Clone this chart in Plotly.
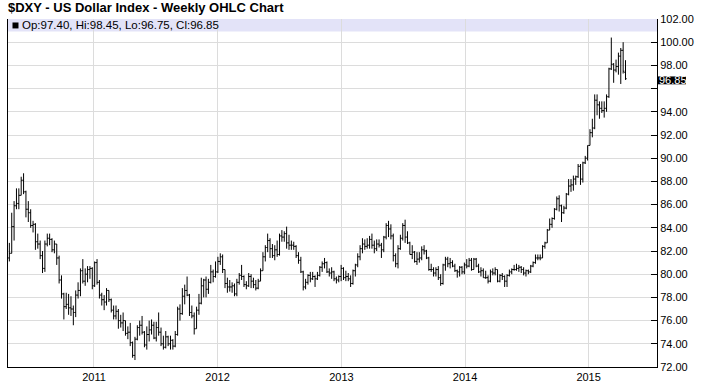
import pandas as pd
import plotly.graph_objects as go

# Weekly bars, week of 2010-04-26 through week of 2015-04-20
week_start = "2010-04-26"
n_weeks = 261

opens = [
    81.4, 81.8, 84.1, 85.9, 86.1, 86.8, 88.1, 87.1, 85.6, 85.3,
    84.2, 84.3, 82.8, 82.6, 81.6, 80.5, 82.6, 83.1, 83.0, 82.1,
    82.6, 81.4, 79.5, 78.3, 77.2, 77.4, 77.1, 77.0, 76.7, 78.2,
    78.6, 80.3, 79.4, 80.0, 80.4, 80.5, 79.0, 81.0, 79.3, 78.2,
    77.8, 77.6, 78.6, 77.8, 76.9, 76.4, 76.8, 76.0, 75.8, 76.0,
    74.9, 75.0, 74.1, 73.0, 74.4, 75.4, 75.6, 75.0, 73.9, 74.8,
    75.2, 75.6, 74.5, 75.4, 75.0, 74.0, 73.7, 74.6, 74.0, 74.3,
    73.8, 74.8, 77.0, 76.6, 78.1, 78.6, 78.2, 76.7, 76.4, 75.3,
    76.9, 77.5, 79.0, 79.5, 78.7, 79.3, 80.2, 79.8, 80.2, 81.1,
    81.5, 80.4, 79.2, 78.9, 78.9, 79.0, 78.3, 79.3, 79.9, 79.8,
    79.1, 79.0, 79.8, 79.4, 79.1, 78.8, 79.4, 80.3, 81.5, 82.3,
    82.9, 82.2, 81.6, 82.1, 81.7, 83.3, 83.2, 83.5, 82.7, 82.5,
    82.5, 82.4, 81.6, 81.2, 80.2, 78.9, 79.3, 79.9, 79.6, 79.8,
    79.6, 79.9, 80.6, 80.9, 81.0, 80.2, 80.1, 80.2, 79.6, 79.5,
    79.8, 80.5, 79.7, 79.8, 79.6, 79.2, 80.3, 80.8, 81.5, 82.2,
    82.6, 82.4, 82.5, 83.0, 82.5, 82.2, 82.6, 82.5, 82.1, 83.2,
    84.2, 83.9, 83.3, 81.6, 80.9, 82.2, 83.1, 84.2, 83.2, 82.7,
    81.7, 81.9, 81.1, 81.3, 81.4, 82.1, 82.0, 81.4, 80.4, 80.4,
    80.1, 80.4, 79.7, 79.2, 80.8, 81.3, 80.9, 81.0, 80.7, 80.3,
    80.2, 80.6, 80.2, 80.8, 80.7, 81.2, 80.4, 81.3, 80.7, 80.2,
    80.3, 79.7, 79.7, 79.4, 80.2, 80.1, 80.4, 79.4, 79.9, 79.8,
    79.4, 79.9, 80.2, 80.4, 80.4, 80.5, 80.6, 80.4, 80.1, 80.3,
    80.2, 80.7, 81.0, 81.4, 81.4, 81.4, 82.4, 82.7, 83.8, 84.3,
    84.8, 85.6, 86.5, 85.9, 85.3, 85.7, 86.9, 87.6, 87.7, 88.2,
    88.4, 89.3, 88.2, 89.6, 90.0, 91.1, 92.2, 92.6, 95.0, 94.6,
    94.3, 94.1, 94.3, 95.3, 97.7, 98.1, 97.6, 97.9, 98.8, 99.3,
    97.40,
]
highs = [
    82.7, 85.3, 86.3, 87.4, 87.4, 88.4, 88.7, 87.2, 86.3, 85.6,
    84.6, 84.4, 83.5, 82.9, 82.0, 82.9, 83.5, 83.5, 83.1, 82.9,
    82.6, 81.6, 79.9, 78.4, 78.4, 78.3, 78.1, 77.3, 78.6, 79.3,
    80.5, 81.3, 80.5, 80.7, 80.7, 80.6, 81.1, 81.3, 79.5, 78.4,
    78.2, 78.8, 78.6, 77.9, 77.3, 77.3, 77.0, 76.5, 76.7, 76.0,
    75.5, 75.8, 74.2, 74.6, 75.6, 76.0, 76.4, 75.1, 75.5, 76.0,
    76.1, 75.9, 75.9, 76.7, 75.4, 74.7, 75.1, 74.7, 74.7, 74.4,
    75.1, 77.2, 77.4, 78.8, 79.1, 79.8, 78.3, 77.3, 76.7, 77.2,
    78.3, 79.7, 79.6, 79.8, 79.6, 80.8, 80.4, 81.1, 81.5, 81.8,
    81.7, 80.4, 79.7, 79.5, 79.3, 79.2, 79.6, 80.1, 80.8, 79.9,
    79.4, 80.1, 80.0, 79.7, 79.5, 79.6, 80.5, 81.9, 82.5, 83.5,
    83.1, 82.6, 82.5, 82.9, 83.5, 83.8, 83.7, 84.1, 83.4, 82.9,
    82.8, 82.5, 81.9, 81.5, 80.3, 79.6, 80.0, 80.2, 80.2, 79.9,
    80.2, 80.7, 81.1, 81.4, 81.1, 80.5, 80.6, 80.3, 79.8, 79.9,
    80.8, 80.6, 80.3, 80.1, 79.9, 80.4, 80.9, 81.8, 82.5, 83.1,
    83.0, 83.1, 83.3, 83.5, 82.9, 83.0, 83.0, 82.7, 83.3, 84.4,
    84.6, 84.3, 83.5, 81.8, 82.5, 83.4, 84.4, 84.7, 83.7, 82.8,
    82.5, 82.0, 81.9, 81.9, 82.4, 82.5, 82.1, 81.5, 80.9, 80.6,
    80.6, 80.7, 80.0, 80.9, 81.5, 81.5, 81.4, 81.2, 80.9, 80.4,
    80.7, 80.7, 81.0, 81.3, 81.4, 81.4, 81.4, 81.4, 80.9, 80.6,
    80.5, 80.3, 79.9, 80.4, 80.5, 80.6, 80.4, 80.0, 80.1, 79.9,
    80.0, 80.4, 80.5, 80.8, 80.9, 80.8, 80.7, 80.6, 80.4, 80.4,
    80.8, 81.1, 81.7, 81.7, 81.7, 82.5, 82.8, 83.9, 84.8, 84.9,
    85.7, 86.7, 86.8, 86.0, 85.9, 87.0, 88.2, 88.2, 88.5, 88.5,
    89.5, 89.5, 89.7, 90.2, 91.1, 92.5, 93.4, 95.5, 95.5, 94.9,
    94.9, 94.9, 95.5, 97.8, 100.4, 98.2, 98.5, 99.1, 99.5, 100.0,
    98.45,
]
lows = [
    81.1, 81.8, 82.9, 85.6, 85.6, 86.8, 86.9, 84.9, 84.5, 84.0,
    83.6, 82.1, 82.2, 81.3, 80.1, 80.2, 82.4, 82.5, 81.9, 81.8,
    80.8, 79.2, 77.9, 76.1, 77.0, 76.5, 76.4, 75.6, 76.3, 77.9,
    78.1, 79.2, 79.0, 79.3, 79.6, 78.7, 78.9, 79.1, 77.9, 77.3,
    76.9, 77.3, 77.6, 76.7, 76.1, 76.1, 75.3, 75.4, 75.1, 74.7,
    74.4, 73.8, 72.8, 72.6, 74.3, 74.7, 74.8, 73.7, 73.5, 74.2,
    74.8, 74.4, 74.2, 74.7, 73.8, 73.5, 73.6, 73.8, 73.5, 73.5,
    73.7, 74.7, 76.0, 76.5, 77.4, 78.1, 76.4, 76.2, 74.8, 75.3,
    76.5, 77.4, 78.0, 78.0, 78.3, 79.2, 79.3, 79.7, 80.1, 80.8,
    80.1, 78.8, 78.4, 78.5, 78.4, 78.1, 78.1, 79.1, 79.5, 78.9,
    78.7, 78.9, 78.8, 78.8, 78.6, 78.7, 79.4, 80.3, 81.1, 81.9,
    81.4, 81.4, 81.2, 81.5, 81.6, 82.8, 82.8, 82.2, 82.1, 82.1,
    82.1, 81.4, 80.9, 80.1, 78.6, 78.7, 79.1, 79.3, 79.5, 78.9,
    79.5, 79.8, 80.2, 80.5, 80.1, 79.8, 79.6, 79.4, 79.2, 79.3,
    79.4, 79.5, 79.4, 79.4, 78.9, 79.1, 79.8, 80.6, 81.2, 81.8,
    82.1, 82.2, 82.2, 82.2, 81.8, 82.0, 82.3, 81.4, 81.9, 83.0,
    83.2, 83.0, 81.1, 80.6, 80.5, 82.1, 82.9, 82.7, 82.6, 81.7,
    81.3, 81.0, 80.8, 81.0, 81.2, 81.7, 81.3, 80.3, 80.2, 79.8,
    79.8, 79.5, 79.0, 79.1, 80.3, 80.6, 80.5, 80.6, 80.2, 79.7,
    79.8, 80.0, 80.0, 80.5, 80.6, 80.3, 80.4, 80.6, 80.1, 79.8,
    79.7, 79.6, 79.2, 79.3, 79.9, 79.9, 79.3, 79.3, 79.5, 78.9,
    78.9, 79.8, 80.0, 80.3, 80.3, 80.2, 80.1, 79.9, 79.8, 80.0,
    80.1, 80.6, 80.9, 81.2, 81.2, 81.4, 82.2, 82.7, 83.8, 84.0,
    84.7, 85.5, 85.4, 84.5, 85.2, 85.6, 86.8, 87.1, 87.2, 87.7,
    88.3, 87.7, 87.9, 89.5, 89.8, 91.1, 91.8, 92.5, 93.7, 93.4,
    93.9, 93.5, 94.0, 95.2, 97.6, 96.5, 97.4, 97.2, 96.4, 97.3,
    96.75,
]
closes = [
    81.8, 84.1, 85.9, 86.1, 86.8, 88.1, 87.1, 85.6, 85.3, 84.2,
    84.3, 82.8, 82.6, 81.6, 80.5, 82.6, 83.1, 83.0, 82.1, 82.6,
    81.4, 79.5, 78.3, 77.2, 77.4, 77.1, 77.0, 76.7, 78.2, 78.6,
    80.3, 79.4, 80.0, 80.4, 80.5, 79.0, 81.0, 79.3, 78.2, 77.8,
    77.6, 78.6, 77.8, 76.9, 76.4, 76.8, 76.0, 75.8, 76.0, 74.9,
    75.0, 74.1, 73.0, 74.4, 75.4, 75.6, 75.0, 73.9, 74.8, 75.2,
    75.6, 74.5, 75.4, 75.0, 74.0, 73.7, 74.6, 74.0, 74.3, 73.8,
    74.8, 77.0, 76.6, 78.1, 78.6, 78.2, 76.7, 76.4, 75.3, 76.9,
    77.5, 79.0, 79.5, 78.7, 79.3, 80.2, 79.8, 80.2, 81.1, 81.5,
    80.4, 79.2, 78.9, 78.9, 79.0, 78.3, 79.3, 79.9, 79.8, 79.1,
    79.0, 79.8, 79.4, 79.1, 78.8, 79.4, 80.3, 81.5, 82.3, 82.9,
    82.2, 81.6, 82.1, 81.7, 83.3, 83.2, 83.5, 82.7, 82.5, 82.5,
    82.4, 81.6, 81.2, 80.2, 78.9, 79.3, 79.9, 79.6, 79.8, 79.6,
    79.9, 80.6, 80.9, 81.0, 80.2, 80.1, 80.2, 79.6, 79.5, 79.8,
    80.5, 79.7, 79.8, 79.6, 79.2, 80.3, 80.8, 81.5, 82.2, 82.6,
    82.4, 82.5, 83.0, 82.5, 82.2, 82.6, 82.5, 82.1, 83.2, 84.2,
    83.9, 83.3, 81.6, 80.9, 82.2, 83.1, 84.2, 83.2, 82.7, 81.7,
    81.9, 81.1, 81.3, 81.4, 82.1, 82.0, 81.4, 80.4, 80.4, 80.1,
    80.4, 79.7, 79.2, 80.8, 81.3, 80.9, 81.0, 80.7, 80.3, 80.2,
    80.6, 80.2, 80.8, 80.7, 81.2, 80.4, 81.3, 80.7, 80.2, 80.3,
    79.7, 79.7, 79.4, 80.2, 80.1, 80.4, 79.4, 79.9, 79.8, 79.4,
    79.9, 80.2, 80.4, 80.4, 80.5, 80.6, 80.4, 80.1, 80.3, 80.2,
    80.7, 81.0, 81.4, 81.4, 81.4, 82.4, 82.7, 83.8, 84.3, 84.8,
    85.6, 86.5, 85.9, 85.3, 85.7, 86.9, 87.6, 87.7, 88.2, 88.4,
    89.3, 88.2, 89.6, 90.0, 91.1, 92.2, 92.6, 95.0, 94.6, 94.3,
    94.1, 94.3, 95.3, 97.7, 98.1, 97.6, 97.9, 98.8, 99.3, 97.5,
    96.85,
]

y_ticks = [72, 74, 76, 78, 80, 82, 84, 86, 88, 90, 92, 94, 96, 98, 100, 102]
y_tick_labels = ["72.00", "74.00", "76.00", "78.00", "80.00", "82.00", "84.00",
                 "86.00", "88.00", "90.00", "92.00", "94.00", "", "98.00",
                 "100.00", "102.00"]
x_ticks = ["2011-01-01", "2012-01-01", "2013-01-01", "2014-01-01", "2015-01-01"]
x_tick_labels = ["2011", "2012", "2013", "2014", "2015"]

title_text = "$DXY - US Dollar Index - Weekly OHLC Chart"
legend_text = "Op:97.40, Hi:98.45, Lo:96.75, Cl:96.85"
last_close_label = "96.85"

dates = pd.date_range(week_start, periods=n_weeks, freq="7D")

W, H = 701, 390
ML, MR, MT, MB = 7, 44, 19, 21
PW, PH = W - ML - MR, H - MT - MB


def px_x(p):
    return (p - ML) / PW


def px_y(p):
    return 1 - (p - MT) / PH


FONT = "Liberation Sans, Arial, sans-serif"

fig = go.Figure()
fig.add_trace(go.Ohlc(
    x=dates, open=opens, high=highs, low=lows, close=closes,
    increasing=dict(line=dict(color="black", width=1)),
    decreasing=dict(line=dict(color="black", width=1)),
    tickwidth=0.5, hoverinfo="skip", showlegend=False,
))

# lavender info band at top of plot
fig.add_shape(type="rect", xref="paper", yref="paper",
              x0=0, x1=1, y0=px_y(31.5), y1=1,
              fillcolor="#E3E3F8", line=dict(width=0), layer="below")
# black square in band
fig.add_shape(type="rect", xref="paper", yref="paper",
              x0=px_x(11.5), x1=px_x(17.5), y0=px_y(28.5), y1=px_y(22.5),
              fillcolor="black", line=dict(width=0))
fig.add_annotation(text=legend_text, xref="paper", yref="paper",
                   x=px_x(19.5), y=px_y(25.5), xanchor="left", yanchor="middle",
                   showarrow=False, font=dict(family=FONT, size=11.5, color="black"))
# title
fig.add_annotation(text="<b>" + title_text + "</b>", xref="paper", yref="paper",
                   x=px_x(5), y=px_y(7), xanchor="left", yanchor="middle",
                   showarrow=False, font=dict(family=FONT, size=13, color="black"))
# last-close tag on the right axis
fig.add_shape(type="rect", xref="paper", yref="y",
              x0=px_x(657.5), x1=px_x(686), y0=96.37, y1=97.05,
              fillcolor="black", line=dict(width=0), layer="above")
fig.add_annotation(text=last_close_label, xref="paper", yref="y",
                   x=px_x(658), y=96.71, xanchor="left", yanchor="middle",
                   showarrow=False, font=dict(family=FONT, size=11, color="white"),
                   borderpad=0)

fig.update_layout(
    width=W, height=H,
    margin=dict(l=ML, r=MR, t=MT, b=MB, pad=0),
    paper_bgcolor="white", plot_bgcolor="white",
    font=dict(family=FONT, size=11, color="black"),
    showlegend=False,
    xaxis=dict(
        type="date", range=["2010-04-22", "2015-07-22"],
        tickvals=x_ticks, ticktext=x_tick_labels,
        showgrid=True, gridcolor="#DCDCDC", gridwidth=1,
        showline=True, linecolor="black", linewidth=1,
        ticks="", rangeslider=dict(visible=False),
        tickfont=dict(family=FONT, size=11, color="black"),
        zeroline=False,
    ),
    yaxis=dict(
        side="right", range=[72, 102],
        tickvals=y_ticks, ticktext=y_tick_labels,
        showgrid=True, gridcolor="#DCDCDC", gridwidth=1,
        showline=True, linecolor="black", linewidth=1, mirror=True,
        ticks="inside", ticklen=6, tickcolor="black", tickwidth=1,
        tickfont=dict(family=FONT, size=11, color="black"),
        zeroline=False,
    ),
)

fig.write_html("out.html")
